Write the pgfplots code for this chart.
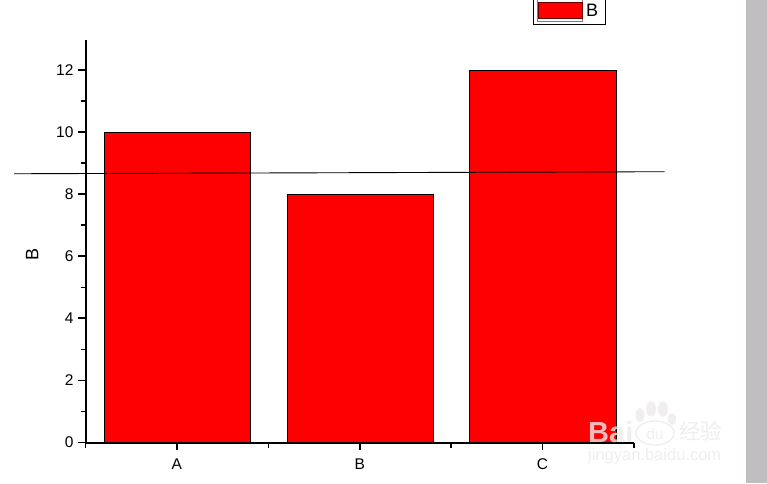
\documentclass[border=0pt]{standalone}
\usepackage{pgfplots}
\pgfplotsset{compat=1.18}
\usepackage{fontspec}
\setmainfont{Liberation Sans}
\newfontfamily\cjk{Noto Sans CJK SC}
\definecolor{band}{HTML}{C0BEC0}
\definecolor{wm}{HTML}{EDEAEA}
\begin{document}
\begin{tikzpicture}[x=1pt,y=1pt]
\useasboundingbox (0,0) rectangle (767,483);
\fill[white] (0,0) rectangle (767,483);
\fill[band] (746,0) rectangle (767,483);
\begin{axis}[
  at={(85.5pt,40.5pt)}, anchor=origin,
  scale only axis, width=548.5pt, height=402.5pt,
  xmin=0.5, xmax=3.5, ymin=0, ymax=12.97,
  axis x line*=bottom, axis y line*=left,
  axis line style={-, line width=2pt, black},
  clip=false,
  xtick={1,2,3}, xticklabels={A,B,C},
  minor xtick={0.5,1.5,2.5,3.5},
  ytick={0,2,4,6,8,10,12},
  minor ytick={1,3,5,7,9,11},
  major tick style={black, line width=1.8pt},
  minor tick style={black, line width=1.6pt},
  major tick length=7.5pt, minor tick length=5pt,
  tick align=outside,
  ticklabel style={font=\fontsize{15.5}{16}\selectfont, text=black},
  /pgf/number format/assume math mode=true,
  xticklabel style={yshift=-5pt},
  yticklabel style={xshift=-1pt},
  ylabel={B},
  ylabel style={font=\fontsize{18}{19}\selectfont, at={(axis description cs:-0.097,0.467)}, anchor=center, rotate=0},
  legend style={
    at={(axis description cs:0.8158,1.0398)}, anchor=south west,
    draw=black, line width=0.9pt, inner xsep=4.5pt, inner ysep=2pt, outer sep=0pt,
    font=\fontsize{18}{19}\selectfont,
    legend cell align=left, row sep=0pt,
    nodes={inner xsep=3pt, inner ysep=0pt},
  },
  legend image code/.code={
    \draw[draw=black!55!red!60, line width=0.7pt, fill=white] (0pt,-11pt) rectangle (45pt,11pt);
    \fill[red, draw=black!60!red, line width=0.5pt] (0.5pt,-8pt) rectangle (44.5pt,8.5pt);
  },
  legend entries={B},
]
\addplot[ybar, bar width=0.8, bar shift=0.5pt, fill=red, draw=black, line width=1pt]
  coordinates {(1,10) (2,8) (3,12)};
\addplot[black, line width=0.9pt, forget plot]
  coordinates {(0.109,8.66) (3.667,8.726)};
\end{axis}
% watermark
\begin{scope}[opacity=0.8]
\node[anchor=base west, inner sep=0pt, text=wm] at (588,41) {\fontsize{29}{30}\selectfont\bfseries Bai};
\draw[wm, line width=1.4pt] (655,50) ellipse (19pt and 12pt);
\fill[wm] (640,68) ellipse (4.5pt and 7pt);
\fill[wm] (651,74) ellipse (5pt and 7.5pt);
\fill[wm] (663,74) ellipse (5pt and 7.5pt);
\fill[wm] (672,64) ellipse (4pt and 6pt);
\node[text=wm, inner sep=0pt] at (655,49) {\fontsize{15}{16}\selectfont du};
\node[anchor=base west, inner sep=0pt, text=wm] at (679,44) {\cjk\fontsize{21.5}{22}\selectfont 经验};
\node[anchor=base west, inner sep=0pt, text=wm] at (588,23) {\fontsize{16.5}{17}\selectfont jingyan.baidu.com};
\end{scope}
\end{tikzpicture}
\end{document}
